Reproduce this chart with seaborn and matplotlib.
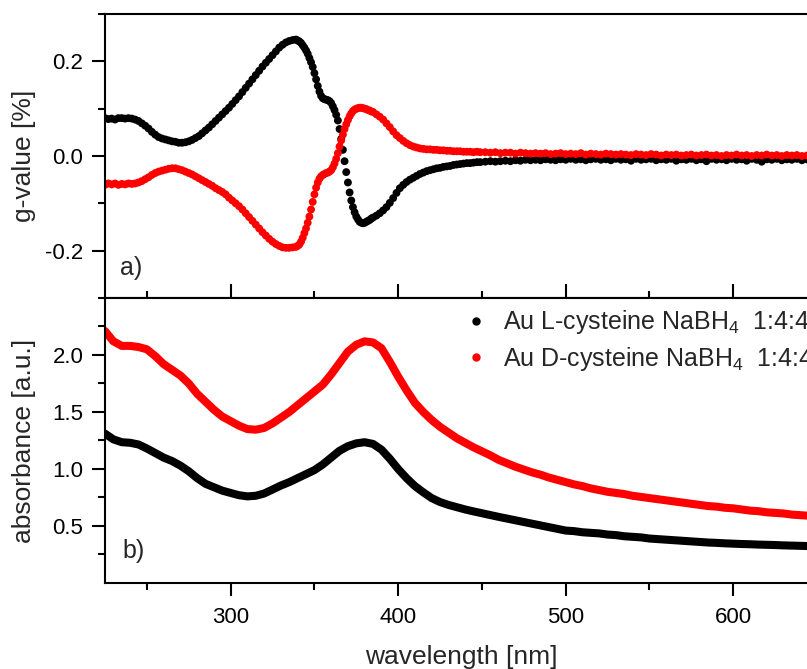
import numpy as np
import pandas as pd
import matplotlib
matplotlib.use("Agg")
import matplotlib.pyplot as plt
from matplotlib.lines import Line2D
from matplotlib.ticker import FormatStrFormatter
import seaborn as sns

# ---------------- data ----------------
# g-value grid (nm)
wl_g = np.concatenate([np.arange(225, 340, 2), np.arange(340, 386, 1),
                       np.arange(387, 450, 2), np.arange(452, 648, 3)])

g_L = [
    # 225..339 step 2
    0.080, 0.078, 0.079, 0.077, 0.080, 0.080, 0.079, 0.080, 0.079, 0.077,
    0.074, 0.069, 0.064, 0.058, 0.051, 0.045, 0.040, 0.037, 0.035, 0.033,
    0.031, 0.030, 0.028, 0.028, 0.029, 0.031, 0.034, 0.038, 0.042, 0.048,
    0.054, 0.060, 0.067, 0.074, 0.081, 0.088, 0.095, 0.102, 0.110, 0.118,
    0.126, 0.135, 0.144, 0.153, 0.162, 0.171, 0.180, 0.189, 0.197, 0.205,
    0.213, 0.221, 0.229, 0.235, 0.240, 0.243, 0.245, 0.246,
    # 340..385 step 1
    0.244, 0.242, 0.239, 0.234, 0.229, 0.223, 0.216, 0.207, 0.198, 0.188,
    0.175, 0.162, 0.148, 0.136, 0.127, 0.122, 0.120, 0.119, 0.118, 0.116,
    0.112, 0.105, 0.097, 0.087, 0.075, 0.057, 0.036, 0.013, -0.011, -0.034,
    -0.056, -0.077, -0.094, -0.108, -0.119, -0.128, -0.134, -0.139, -0.141, -0.142,
    -0.141, -0.139, -0.137, -0.135, -0.132, -0.130,
    # 387..449 step 2
    -0.126, -0.121, -0.115, -0.108, -0.099, -0.089, -0.078, -0.068, -0.061, -0.055,
    -0.050, -0.046, -0.042, -0.038, -0.035, -0.032, -0.030, -0.028, -0.026, -0.025,
    -0.023, -0.022, -0.021, -0.019, -0.018, -0.017, -0.016, -0.015, -0.015, -0.014,
    -0.013, -0.013,
    # 452..647 step 3
    -0.012, -0.011, -0.012, -0.011, -0.010, -0.011, -0.009, -0.010, -0.008, -0.009,
    -0.008, -0.009, -0.007, -0.008, -0.009, -0.007, -0.008, -0.006, -0.008, -0.007,
    -0.009, -0.007, -0.006, -0.008, -0.007, -0.009, -0.006, -0.008, -0.007, -0.010,
    -0.006, -0.008, -0.007, -0.006, -0.009, -0.007, -0.008, -0.006, -0.010, -0.007,
    -0.008, -0.006, -0.009, -0.007, -0.011, -0.006, -0.008, -0.007, -0.009, -0.006,
    -0.008, -0.007, -0.010, -0.006, -0.008, -0.012, -0.007, -0.008, -0.006, -0.009,
    -0.007, -0.008, -0.006, -0.009, -0.007, -0.011,
]

g_D = [
    # 225..339 step 2
    -0.061, -0.058, -0.060, -0.058, -0.061, -0.059, -0.060, -0.058, -0.059, -0.058,
    -0.056, -0.053, -0.049, -0.045, -0.040, -0.036, -0.033, -0.031, -0.029, -0.027,
    -0.026, -0.026, -0.028, -0.030, -0.033, -0.036, -0.039, -0.043, -0.047, -0.051,
    -0.055, -0.059, -0.063, -0.068, -0.072, -0.076, -0.081, -0.088, -0.094, -0.100,
    -0.106, -0.113, -0.121, -0.129, -0.137, -0.145, -0.153, -0.161, -0.168, -0.175,
    -0.181, -0.186, -0.190, -0.193, -0.194, -0.194, -0.193, -0.192,
    # 340..385 step 1
    -0.190, -0.187, -0.181, -0.173, -0.163, -0.153, -0.141, -0.128, -0.113, -0.097,
    -0.081, -0.067, -0.056, -0.048, -0.043, -0.040, -0.038, -0.036, -0.035, -0.033,
    -0.030, -0.024, -0.016, -0.006, 0.006, 0.020, 0.033, 0.045, 0.057, 0.067,
    0.076, 0.084, 0.090, 0.095, 0.098, 0.100, 0.101, 0.102, 0.102, 0.101,
    0.100, 0.099, 0.097, 0.096, 0.094, 0.093,
    # 387..449 step 2
    0.088, 0.083, 0.077, 0.069, 0.061, 0.052, 0.044, 0.038, 0.032, 0.027,
    0.023, 0.020, 0.018, 0.016, 0.015, 0.014, 0.014, 0.013, 0.013, 0.012,
    0.012, 0.011, 0.011, 0.010, 0.010, 0.010, 0.009, 0.009, 0.009, 0.008,
    0.009, 0.008,
    # 452..647 step 3
    0.008, 0.007, 0.008, 0.006, 0.007, 0.007, 0.005, 0.007, 0.006, 0.005,
    0.006, 0.005, 0.006, 0.004, 0.005, 0.006, 0.004, 0.005, 0.004, 0.006,
    0.003, 0.005, 0.004, 0.003, 0.005, 0.004, 0.003, 0.004, 0.003, 0.002,
    0.004, 0.003, 0.002, 0.004, 0.003, 0.001, 0.003, 0.002, 0.003, 0.001,
    0.002, 0.003, 0.001, 0.002, 0.003, 0.001, 0.002, 0.000, 0.002, 0.001,
    0.003, 0.001, 0.002, 0.000, 0.002, 0.001, 0.003, 0.001, 0.002, 0.000,
    0.002, 0.001, 0.002, 0.000, 0.001, 0.002,
]

# absorbance grid (nm)
wl_a = np.arange(225, 646, 5)

abs_L = [
    1.31, 1.26, 1.235, 1.23, 1.215, 1.18, 1.14, 1.10, 1.07, 1.03,
    0.98, 0.92, 0.87, 0.84, 0.81, 0.79, 0.77, 0.76, 0.765, 0.785,
    0.82, 0.855, 0.885, 0.92, 0.955, 0.99, 1.04, 1.10, 1.16, 1.20,
    1.225, 1.235, 1.22, 1.17, 1.09, 1.00, 0.92, 0.85, 0.795, 0.745,
    0.71, 0.685, 0.665, 0.645, 0.628, 0.612, 0.596, 0.58, 0.565, 0.55,
    0.535, 0.52, 0.505, 0.49, 0.475, 0.46, 0.455, 0.445, 0.44, 0.435,
    0.425, 0.42, 0.41, 0.405, 0.40, 0.39, 0.385, 0.38, 0.375, 0.37,
    0.365, 0.36, 0.355, 0.352, 0.348, 0.345, 0.342, 0.34, 0.337, 0.335,
    0.333, 0.33, 0.328, 0.326, 0.324,
]

abs_D = [
    2.21, 2.12, 2.08, 2.08, 2.07, 2.05, 1.99, 1.92, 1.87, 1.82,
    1.75, 1.66, 1.59, 1.52, 1.46, 1.42, 1.38, 1.35, 1.345, 1.36,
    1.40, 1.45, 1.50, 1.56, 1.62, 1.68, 1.74, 1.83, 1.93, 2.03,
    2.09, 2.12, 2.11, 2.06, 1.94, 1.81, 1.69, 1.58, 1.50, 1.43,
    1.37, 1.32, 1.27, 1.23, 1.19, 1.155, 1.12, 1.08, 1.05, 1.02,
    0.995, 0.97, 0.95, 0.925, 0.905, 0.885, 0.865, 0.85, 0.83, 0.815,
    0.80, 0.79, 0.78, 0.765, 0.755, 0.745, 0.735, 0.725, 0.715, 0.705,
    0.695, 0.685, 0.675, 0.67, 0.66, 0.655, 0.645, 0.635, 0.63, 0.62,
    0.615, 0.61, 0.60, 0.595, 0.59,
]

labels = ["Au L-cysteine NaBH$_4$  1:4:4", "Au D-cysteine NaBH$_4$  1:4:4"]
colors = ["#000000", "#ff0000"]
y_major_g = [-0.2, 0.0, 0.2]
y_minor_g = [-0.3, -0.1, 0.1, 0.3]
y_major_a = [0.5, 1.0, 1.5, 2.0]
y_minor_a = [0.25, 0.75, 1.25, 1.75, 2.25]
x_major = [300, 400, 500, 600]
x_minor = [250, 350, 450, 550, 650]

# ---------------- frames ----------------
g_df = pd.concat([
    pd.DataFrame({"wavelength": wl_g, "g": g_L, "sample": labels[0]}),
    pd.DataFrame({"wavelength": wl_g, "g": g_D, "sample": labels[1]}),
], ignore_index=True)
a_df = pd.concat([
    pd.DataFrame({"wavelength": wl_a, "absorbance": abs_L, "sample": labels[0]}),
    pd.DataFrame({"wavelength": wl_a, "absorbance": abs_D, "sample": labels[1]}),
], ignore_index=True)
palette = dict(zip(labels, colors))

# ---------------- style ----------------
sns.set_style("ticks")
plt.rcParams["font.family"] = ["Liberation Sans", "DejaVu Sans"]
plt.rcParams["mathtext.default"] = "regular"
plt.rcParams["axes.unicode_minus"] = False
plt.rcParams["axes.linewidth"] = 1.5

fig = plt.figure(figsize=(8.07, 6.69), dpi=100)
ax1 = fig.add_axes([0.13011, 0.55456, 0.88228, 0.42451])
ax2 = fig.add_axes([0.13011, 0.12855, 0.88228, 0.42601], sharex=ax1)

sns.scatterplot(data=g_df, x="wavelength", y="g", hue="sample", palette=palette,
                s=32, linewidth=0, legend=False, ax=ax1)
sns.lineplot(data=a_df, x="wavelength", y="absorbance", hue="sample", palette=palette,
             linewidth=5.8, estimator=None, legend=False, ax=ax2)

ax1.set_xlim(225, 650)
ax1.set_ylim(-0.3, 0.3)
ax2.set_ylim(0.0, 2.5)

for ax in (ax1, ax2):
    for sp in ax.spines.values():
        sp.set_linewidth(1.5)
        sp.set_color("black")
    ax.tick_params(axis="both", which="major", length=9.5, width=1.5, colors="black",
                   labelsize=16, pad=6)
    ax.tick_params(axis="both", which="minor", length=4.8, width=1.5, colors="black")

ax1.set_yticks(y_major_g)
ax1.set_yticks(y_minor_g, minor=True)
ax1.yaxis.set_major_formatter(FormatStrFormatter("%.1f"))
ax2.set_yticks(y_major_a)
ax2.set_yticks(y_minor_a, minor=True)
ax2.yaxis.set_major_formatter(FormatStrFormatter("%.1f"))
ax2.set_xticks(x_major)
ax2.set_xticks(x_minor, minor=True)
ax2.xaxis.set_major_formatter(FormatStrFormatter("%d"))

ax1.tick_params(axis="x", which="both", direction="in", labelbottom=False, top=False)
ax1.tick_params(axis="x", which="major", length=10)
ax2.tick_params(axis="x", which="both", top=False)
ax2.tick_params(axis="x", which="major", pad=8)

ax1.set_xlabel("")
ax1.set_ylabel("g-value [%]", fontsize=19)
ax2.set_ylabel("absorbance [a.u.]", fontsize=19)
ax1.yaxis.set_label_coords(-0.097, 0.5)
ax2.yaxis.set_label_coords(-0.097, 0.5)
ax2.set_xlabel("wavelength [nm]", fontsize=19, va="baseline")
ax2.xaxis.set_label_coords(0.5, -0.284)

ax1.text(0.021, 0.105, "a)", transform=ax1.transAxes, fontsize=18, va="center", ha="left")
ax2.text(0.024, 0.112, "b)", transform=ax2.transAxes, fontsize=18, va="center", ha="left")

handles = [Line2D([], [], marker="o", linestyle="none", color=c, markersize=5) for c in colors]
ax2.legend(handles, labels, loc="upper left", bbox_to_anchor=(0.503, 0.964),
           frameon=False, fontsize=18, handlelength=1.0, handletextpad=0.6,
           borderpad=0, borderaxespad=0, labelspacing=0.33)

fig.savefig("out.png", dpi=100)
